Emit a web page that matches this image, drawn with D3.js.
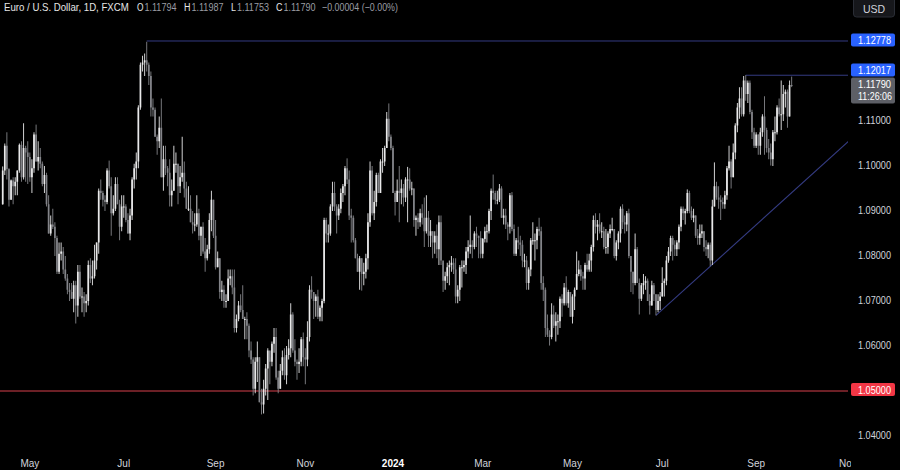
<!DOCTYPE html>
<html><head><meta charset="utf-8">
<script src="https://cdn.jsdelivr.net/npm/d3@7"></script>
<style>html,body{margin:0;padding:0;background:#000;overflow:hidden}</style>
</head><body><svg id="c" width="900" height="470"></svg>
<script>
// ---------- DATA ----------
const startDate = "2023-04-12";
const holidays = ["2023-12-25", "2024-01-01"];
const axisEndDate = "2024-11-01";
const firstOpen = 1.0915;
const closes = [
1.0990,1.1045,1.0993,1.0925,1.0968,1.0955,1.0965,1.0990,1.1047,1.0975,1.1040,1.1030,1.1020,
1.0975,1.0995,1.1070,1.1010,1.1020,1.1005,1.0960,1.0980,1.0915,1.0850,1.0870,1.0865,1.0840,1.0765,1.0805,1.0810,1.0770,1.0750,1.0725,1.0720,1.0705,1.0735,1.0690,
1.0765,1.0710,1.0710,1.0695,1.0700,1.0780,1.0750,1.0755,1.0790,1.0830,1.0945,1.0940,1.0925,1.0920,1.0990,1.0955,1.0895,1.0905,1.0960,1.0915,1.0865,1.0910,
1.0910,1.0880,1.0850,1.0890,1.0970,1.0995,1.1010,1.1130,1.1225,1.1230,1.1235,1.1225,1.1200,1.1130,1.1125,1.1065,1.1055,1.1085,1.0975,1.1015,1.0995,
1.0985,1.0935,1.0945,1.1005,1.1005,1.0955,1.0975,1.0985,1.0950,1.0905,1.0905,1.0875,1.0870,1.0870,1.0895,1.0845,1.0865,1.0810,1.0795,1.0815,1.0880,1.0925,1.0845,
1.0775,1.0795,1.0720,1.0725,1.0700,1.0700,1.0750,1.0755,1.0730,1.0640,1.0660,1.0690,1.0680,1.0660,1.0660,1.0645,1.0590,1.0570,1.0505,1.0565,1.0575,
1.0475,1.0470,1.0505,1.0550,1.0590,1.0565,1.0605,1.0620,1.0530,1.0505,1.0545,1.0575,1.0535,1.0580,1.0595,1.0670,1.0590,1.0565,1.0560,1.0565,1.0615,1.0575,
1.0570,1.0620,1.0725,1.0720,1.0700,1.0710,1.0665,1.0685,1.0700,1.0880,1.0850,1.0850,1.0910,1.0940,1.0910,1.0890,1.0905,1.0940,1.0955,1.0995,1.0970,1.0890,
1.0885,1.0835,1.0795,1.0765,1.0795,1.0760,1.0765,1.0795,1.0875,1.0990,1.0895,1.0920,1.0980,1.0940,1.1010,1.1010,1.1040,1.1105,1.1065,1.1040,
1.0940,1.0920,1.0945,1.0940,1.0950,1.0930,1.0970,1.0970,1.0950,1.0950,1.0880,1.0885,1.0875,1.0895,1.0885,1.0855,1.0885,1.0845,1.0855,1.0830,1.0845,1.0815,
1.0875,1.0790,1.0745,1.0755,1.0775,1.0780,1.0785,1.0770,1.0710,1.0725,1.0775,1.0775,1.0780,1.0810,1.0820,1.0825,1.0820,1.0850,1.0845,1.0840,1.0805,
1.0838,1.0855,1.0855,1.0900,1.0945,1.0940,1.0925,1.0925,1.0950,1.0885,1.0890,1.0870,1.0865,1.0935,1.0860,1.0805,1.0835,1.0830,1.0825,1.0790,1.0790,
1.0740,1.0770,1.0835,1.0835,1.0835,1.0860,1.0855,1.0740,1.0725,1.0640,1.0625,1.0620,1.0670,1.0645,1.0655,1.0655,1.0705,1.0695,1.0730,1.0695,1.0720,1.0665,
1.0710,1.0725,1.0760,1.0770,1.0755,1.0750,1.0780,1.0770,1.0790,1.0820,1.0880,1.0865,1.0870,1.0855,1.0855,1.0820,1.0820,1.0850,1.0860,1.0860,1.0800,1.0830,1.0850,
1.0905,1.0875,1.0870,1.0895,1.0800,1.0765,1.0740,1.0815,1.0740,1.0705,1.0735,1.0740,1.0745,1.0700,1.0690,1.0735,1.0715,1.0680,1.0700,1.0710,
1.0740,1.0745,1.0790,1.0810,1.0840,1.0825,1.0815,1.0830,1.0865,1.0905,1.0895,1.0900,1.0940,1.0900,1.0885,1.0890,1.0845,1.0840,1.0850,1.0855,1.0820,1.0815,1.0825,
1.0790,1.0910,1.0955,1.0930,1.0925,1.0920,1.0915,1.0935,1.0995,1.1010,1.0975,1.1030,1.1090,1.1130,1.1150,1.1115,1.1190,1.1160,1.1185,1.1120,1.1075,1.1045,
1.1070,1.1045,1.1075,1.1110,1.1080,1.1040,1.1030,1.1015,1.1075,1.1075,1.1130,1.1115,1.1115,1.1160,1.1165,1.1110,1.1180,1.11790
];
const highs = [
1.0999,1.1050,1.1075,1.0995,1.0970,1.0975,1.0975,1.0990,1.1050,1.1055,1.1095,1.1045,1.1055,
1.1030,1.1015,1.1075,1.1092,1.1055,1.1040,1.1010,1.1000,1.0985,1.0935,1.0890,1.0905,1.0875,1.0845,1.0830,1.0830,1.0820,1.0800,1.0760,1.0740,1.0740,1.0745,1.0745,
1.0780,1.0780,1.0730,1.0720,1.0715,1.0790,1.0795,1.0790,1.0825,1.0830,1.0950,1.0970,1.0945,1.0935,1.0995,1.1012,1.0975,1.0935,1.0975,1.0975,1.0925,1.0935,
1.0935,1.0915,1.0895,1.0905,1.0975,1.1005,1.1030,1.1135,1.1230,1.1245,1.1250,1.1276,1.1230,1.1210,1.1150,1.1130,1.1070,1.1110,1.1150,1.1045,1.1045,
1.1000,1.1015,1.0970,1.1045,1.1030,1.1005,1.1000,1.1065,1.1010,1.0965,1.0955,1.0935,1.0900,1.0895,1.0935,1.0905,1.0865,1.0875,1.0840,1.0825,1.0895,1.0945,1.0925,
1.0880,1.0810,1.0795,1.0745,1.0735,1.0715,1.0770,1.0770,1.0770,1.0770,1.0670,1.0700,1.0715,1.0735,1.0665,1.0675,1.0650,1.0610,1.0575,1.0575,1.0610,
1.0575,1.0505,1.0525,1.0560,1.0595,1.0575,1.0610,1.0640,1.0640,1.0545,1.0560,1.0590,1.0595,1.0600,1.0615,1.0695,1.0675,1.0615,1.0570,1.0595,1.0620,1.0630,
1.0595,1.0655,1.0735,1.0755,1.0720,1.0715,1.0725,1.0690,1.0705,1.0885,1.0885,1.0870,1.0915,1.0965,1.0965,1.0915,1.0915,1.0950,1.0960,1.1000,1.1017,1.0990,
1.0905,1.0890,1.0840,1.0805,1.0800,1.0795,1.0785,1.0805,1.0895,1.1010,1.1000,1.0945,1.0985,1.0985,1.1015,1.1040,1.1045,1.1120,1.1139,1.1070,
1.1045,1.0945,1.0970,1.1000,1.0970,1.0960,1.0975,1.0998,1.0995,1.0965,1.0950,1.0890,1.0895,1.0905,1.0915,1.0930,1.0935,1.0900,1.0880,1.0855,1.0855,1.0870,
1.0890,1.0890,1.0785,1.0765,1.0785,1.0790,1.0800,1.0795,1.0795,1.0735,1.0780,1.0790,1.0790,1.0820,1.0835,1.0890,1.0835,1.0855,1.0865,1.0845,1.0855,
1.0840,1.0865,1.0870,1.0905,1.0950,1.0981,1.0945,1.0945,1.0960,1.0955,1.0905,1.0905,1.0875,1.0940,1.0942,1.0870,1.0840,1.0865,1.0845,1.0835,1.0805,
1.0800,1.0775,1.0840,1.0875,1.0850,1.0865,1.0885,1.0865,1.0755,1.0730,1.0670,1.0635,1.0695,1.0690,1.0675,1.0670,1.0710,1.0715,1.0740,1.0755,1.0725,1.0715,
1.0715,1.0730,1.0810,1.0790,1.0780,1.0765,1.0785,1.0805,1.0805,1.0825,1.0890,1.0895,1.0880,1.0895,1.0875,1.0865,1.0860,1.0855,1.0870,1.0885,1.0860,1.0835,1.0855,
1.0910,1.0915,1.0890,1.0900,1.0905,1.0790,1.0765,1.0850,1.0820,1.0750,1.0740,1.0760,1.0755,1.0750,1.0715,1.0745,1.0740,1.0715,1.0715,1.0720,
1.0775,1.0750,1.0800,1.0820,1.0845,1.0845,1.0835,1.0835,1.0870,1.0910,1.0910,1.0905,1.0948,1.0945,1.0910,1.0905,1.0890,1.0860,1.0870,1.0870,1.0855,1.0835,1.0830,
1.0830,1.0925,1.1008,1.0965,1.0955,1.0935,1.0930,1.0945,1.1000,1.1045,1.1015,1.1050,1.1095,1.1140,1.1175,1.1175,1.1200,1.1202,1.1190,1.1190,1.1125,1.1085,
1.1075,1.1070,1.1085,1.1115,1.1155,1.1085,1.1060,1.1050,1.1080,1.1110,1.1135,1.1150,1.1190,1.1180,1.1170,1.1170,1.1190,1.11987
];
const lows = [
1.0914,1.0980,1.0970,1.0910,1.0925,1.0915,1.0935,1.0935,1.0985,1.0965,1.0970,1.0965,1.0960,
1.0965,1.0940,1.0985,1.1010,1.0990,1.0995,1.0955,1.0940,1.0910,1.0850,1.0845,1.0860,1.0800,1.0760,1.0760,1.0790,1.0760,1.0745,1.0715,1.0700,1.0705,1.0675,1.0650,
1.0665,1.0705,1.0675,1.0665,1.0675,1.0690,1.0740,1.0735,1.0750,1.0770,1.0805,1.0925,1.0910,1.0900,1.0915,1.0950,1.0845,1.0890,1.0900,1.0915,1.0835,1.0855,
1.0885,1.0875,1.0850,1.0835,1.0880,1.0950,1.0970,1.0995,1.1125,1.1210,1.1200,1.1210,1.1180,1.1110,1.1110,1.1065,1.1025,1.1040,1.0975,1.0945,1.0980,
1.0955,1.0910,1.0910,1.0945,1.0985,1.0915,1.0940,1.0965,1.0930,1.0905,1.0900,1.0875,1.0850,1.0855,1.0865,1.0835,1.0800,1.0805,1.0765,1.0790,1.0805,1.0855,1.0840,
1.0770,1.0775,1.0705,1.0700,1.0685,1.0685,1.0705,1.0735,1.0715,1.0630,1.0630,1.0655,1.0675,1.0660,1.0615,1.0615,1.0575,1.0560,1.0490,1.0495,1.0520,
1.0475,1.0448,1.0450,1.0490,1.0480,1.0515,1.0555,1.0585,1.0525,1.0495,1.0505,1.0535,1.0525,1.0515,1.0570,1.0575,1.0585,1.0555,1.0525,1.0540,1.0555,1.0555,
1.0515,1.0555,1.0610,1.0705,1.0660,1.0665,1.0660,1.0655,1.0655,1.0695,1.0830,1.0830,1.0845,1.0900,1.0900,1.0850,1.0880,1.0895,1.0920,1.0935,1.0960,1.0880,
1.0830,1.0830,1.0795,1.0765,1.0725,1.0723,1.0735,1.0750,1.0770,1.0865,1.0890,1.0880,1.0910,1.0940,1.0940,1.0985,1.1000,1.1040,1.1055,1.1035,
1.0940,1.0890,1.0925,1.0875,1.0915,1.0910,1.0920,1.0875,1.0945,1.0935,1.0865,1.0845,1.0860,1.0865,1.0870,1.0820,1.0850,1.0820,1.0820,1.0795,1.0805,1.0795,
1.0780,1.0780,1.0720,1.0725,1.0740,1.0735,1.0765,1.0760,1.0695,1.0695,1.0700,1.0730,1.0765,1.0760,1.0795,1.0805,1.0795,1.0815,1.0820,1.0795,1.0795,
1.0795,1.0830,1.0830,1.0850,1.0880,1.0925,1.0915,1.0915,1.0920,1.0885,1.0870,1.0860,1.0835,1.0850,1.0855,1.0800,1.0800,1.0815,1.0800,1.0775,1.0775,
1.0725,1.0725,1.0755,1.0825,1.0790,1.0815,1.0845,1.0725,1.0700,1.0620,1.0620,1.0601,1.0615,1.0640,1.0610,1.0625,1.0640,1.0665,1.0690,1.0690,1.0685,1.0665,
1.0650,1.0680,1.0725,1.0755,1.0745,1.0725,1.0725,1.0765,1.0765,1.0765,1.0810,1.0850,1.0835,1.0850,1.0840,1.0815,1.0805,1.0805,1.0840,1.0855,1.0795,1.0790,1.0815,
1.0830,1.0860,1.0850,1.0855,1.0795,1.0720,1.0715,1.0735,1.0740,1.0670,1.0700,1.0715,1.0725,1.0700,1.0670,1.0690,1.0700,1.0668,1.0675,1.0680,
1.0710,1.0710,1.0735,1.0785,1.0800,1.0790,1.0800,1.0800,1.0815,1.0855,1.0880,1.0870,1.0895,1.0895,1.0880,1.0875,1.0840,1.0825,1.0825,1.0840,1.0810,1.0800,1.0795,
1.0777,1.0780,1.0910,1.0925,1.0905,1.0880,1.0905,1.0905,1.0925,1.0990,1.0950,1.0975,1.1015,1.1075,1.1105,1.1110,1.1110,1.1145,1.1140,1.1115,1.1060,1.1040,
1.1040,1.1025,1.1025,1.1065,1.1025,1.1030,1.1015,1.1001,1.1000,1.1055,1.1070,1.1110,1.1080,1.1100,1.1130,1.1085,1.1110,1.11753
];
const priceTicks = [1.13, 1.12, 1.11, 1.10, 1.09, 1.08, 1.07, 1.06, 1.05, 1.04];
const timeTickMonths = ["2023-05","2023-07","2023-09","2023-11","2024-01","2024-03","2024-05","2024-07","2024-09","2024-11"];
const timeTickLabels = ["May","Jul","Sep","Nov","2024","Mar","May","Jul","Sep","Nov"];
const levelLines = [{from: "2023-07-18", price: 1.12778}, {from: "2024-08-26", price: 1.12017}];
const supportPrice = 1.05;
const trendPoints = [{date: "2024-06-26", price: 1.0668}, {date: "2024-08-01", price: 1.0777}];
const lastPrice = 1.11790;
const countdown = "11:26:06";
const titleText = "Euro / U.S. Dollar, 1D, FXCM";
const ohlcLabels = ["O", "H", "L", "C"];
const ohlcValues = ["1.11794", "1.11987", "1.11753", "1.11790"];
const changeText = "\u22120.00004 (\u22120.00%)";

// ---------- DATES (weekday trading sessions) ----------
const fmt = d3.utcFormat("%Y-%m-%d");
const dates = [];
{
  let d = new Date(startDate + "T00:00:00Z");
  while (fmt(d) <= axisEndDate) {
    const wd = d.getUTCDay(), s = fmt(d);
    if (wd !== 0 && wd !== 6 && !holidays.includes(s)) dates.push(s);
    d = new Date(d.getTime() + 864e5);
  }
}
const idxOf = s => dates.indexOf(s);

// ---------- SCALES ----------
const W = 900, H = 470, plotRight = 848;
const x = d3.scaleLinear().domain([0, idxOf(axisEndDate)]).range([2.7, 848]);
const y = d3.scaleLinear().domain([1.04, 1.13]).range([436, 31]);

const svg = d3.select("#c");
svg.append("rect").attr("width", W).attr("height", H).attr("fill", "#000");
const defs = svg.append("defs");
defs.append("clipPath").attr("id", "plot").append("rect").attr("x", 0).attr("y", 0).attr("width", plotRight).attr("height", 450);
defs.append("clipPath").attr("id", "taxis").append("rect").attr("x", 0).attr("y", 445).attr("width", 851).attr("height", 25);

const plot = svg.append("g").attr("clip-path", "url(#plot)");

// support line
plot.append("line").attr("x1", 0).attr("x2", plotRight)
  .attr("y1", y(supportPrice)).attr("y2", y(supportPrice))
  .attr("stroke", "#d8404c").attr("stroke-width", 1);

// level lines
const lineCol = "#343b82";
levelLines.forEach(l => {
  plot.append("line").attr("x1", x(idxOf(l.from))).attr("x2", plotRight)
    .attr("y1", y(l.price)).attr("y2", y(l.price))
    .attr("stroke", lineCol).attr("stroke-width", 1);
});

// trend line (extended to right edge)
{
  const i0 = idxOf(trendPoints[0].date), i1 = idxOf(trendPoints[1].date);
  const slope = (trendPoints[1].price - trendPoints[0].price) / (i1 - i0);
  const iEnd = x.invert(plotRight + 2);
  plot.append("line")
    .attr("x1", x(i0)).attr("y1", y(trendPoints[0].price))
    .attr("x2", x(iEnd)).attr("y2", y(trendPoints[0].price + slope * (iEnd - i0)))
    .attr("stroke", lineCol).attr("stroke-width", 1.1);
}

// candles
const candles = closes.map((c, i) => ({i, o: i ? closes[i - 1] : firstOpen, h: highs[i], l: lows[i], c}));
const upCol = "#e9e9ea", dnCol = "#838489";
const cg = plot.append("g");
cg.selectAll("line.w").data(candles).join("line").attr("class", "w")
  .attr("x1", d => x(d.i)).attr("x2", d => x(d.i))
  .attr("y1", d => y(d.h)).attr("y2", d => y(d.l))
  .attr("stroke", d => d.c >= d.o ? upCol : dnCol).attr("stroke-width", 0.9);
cg.selectAll("rect.b").data(candles).join("rect").attr("class", "b")
  .attr("x", d => x(d.i) - 0.85).attr("width", 1.7)
  .attr("y", d => y(Math.max(d.o, d.c)))
  .attr("height", d => Math.max(1, Math.abs(y(d.o) - y(d.c))))
  .attr("fill", d => d.c >= d.o ? upCol : dnCol);

// ---------- PRICE AXIS ----------
const axFont = "'Liberation Sans', Arial, sans-serif";
const pa = svg.append("g");

const pTop = y(lastPrice) - 8;
const boxes = [
  {top: pTop, h: 26, fill: "#5d5f66", lines: [lastPrice.toFixed(5), countdown]},
  {top: y(levelLines[0].price) - 7.5, h: 13, fill: "#2962ff", lines: [levelLines[0].price.toFixed(5)]},
  {top: pTop - 14, h: 13, fill: "#2962ff", lines: [levelLines[1].price.toFixed(5)]},
  {top: y(supportPrice) - 8, h: 13, fill: "#f23645", lines: [supportPrice.toFixed(5)]}
];
const covered = p => boxes.some(b => y(p) - 1 > b.top - 5 && y(p) - 1 < b.top + b.h + 5);

pa.selectAll("text.tick").data(priceTicks.filter(p => !covered(p))).join("text").attr("class", "tick")
  .attr("x", 858).attr("y", d => y(d) - 1)
  .attr("dominant-baseline", "central")
  .attr("textLength", 33).attr("lengthAdjust", "spacingAndGlyphs")
  .attr("font-family", axFont).attr("font-size", 11).attr("fill", "#d1d4dc")
  .text(d => d.toFixed(5));

boxes.forEach(b => {
  pa.append("rect").attr("x", 851).attr("y", b.top).attr("width", 44).attr("height", b.h)
    .attr("rx", 2).attr("fill", b.fill);
  b.lines.forEach((t, k) => {
    pa.append("text").attr("x", 858).attr("y", b.top + 6.5 + k * 12)
      .attr("dominant-baseline", "central")
      .attr("textLength", t.length > 7 ? 34 : 33).attr("lengthAdjust", "spacingAndGlyphs")
      .attr("font-family", axFont).attr("font-size", 10.5).attr("fill", "#ffffff").text(t);
  });
});

// USD box
svg.append("rect").attr("x", 853.5).attr("y", -3).attr("width", 41).attr("height", 20).attr("rx", 3)
  .attr("fill", "#16171b").attr("stroke", "#2a2d35");
svg.append("text").attr("x", 874).attr("y", 9).attr("text-anchor", "middle")
  .attr("dominant-baseline", "central").attr("font-family", axFont).attr("font-size", 10.5)
  .attr("fill", "#d1d4dc").text("USD");

// ---------- TIME AXIS ----------
const ta = svg.append("g").attr("clip-path", "url(#taxis)");
const tickIdx = timeTickMonths.map(m => dates.findIndex(s => s.startsWith(m)));
ta.selectAll("text").data(timeTickLabels).join("text")
  .attr("x", (d, k) => x(tickIdx[k])).attr("y", 463)
  .attr("text-anchor", "middle").attr("dominant-baseline", "central")
  .attr("font-family", axFont).attr("font-size", 10)
  .attr("font-weight", d => d === "2024" ? "bold" : "normal")
  .attr("fill", d => d === "2024" ? "#ffffff" : "#d1d4dc")
  .text(d => d);

// ---------- TITLE (narrow text via horizontal scaling so boxes match) ----------
const tg = svg.append("g").attr("font-family", axFont).attr("font-size", 11);
function narrowText(str, x0, width, fill) {
  const g = tg.append("g");
  const t = g.append("text").attr("x", 0).attr("y", 0).attr("fill", fill).text(str);
  const w = t.node().getComputedTextLength() || width;
  g.attr("transform", `translate(${x0},11) scale(${width / w},1)`);
}
narrowText(titleText, 4, 125, "#e6e6e6");
const ohlcX = [137, 184, 231, 276];
const ohlcW = [6.5, 6.5, 5, 6.5];
ohlcLabels.forEach((lab, k) => {
  narrowText(lab, ohlcX[k], ohlcW[k], "#e6e6e6");
  narrowText(ohlcValues[k], ohlcX[k] + ohlcW[k] + 1, 32, "#9a9ca3");
});
narrowText(changeText, 322, 76, "#9a9ca3");
</script></body></html>
